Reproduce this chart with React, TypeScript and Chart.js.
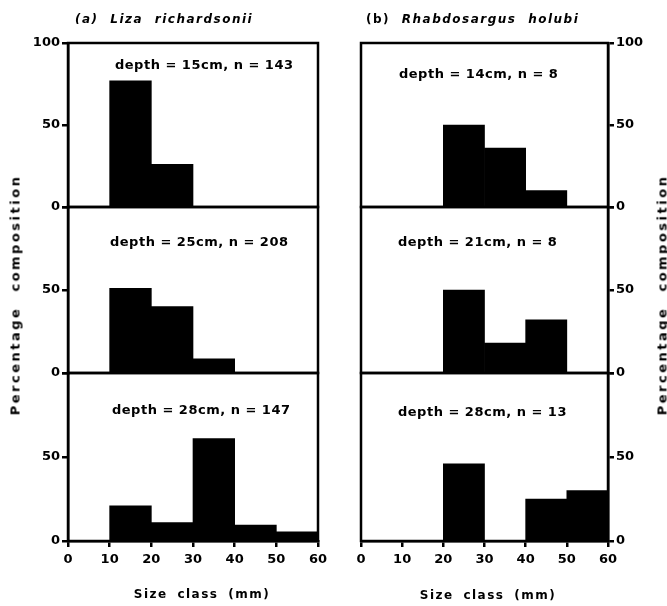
import React, { useEffect, useRef } from "react";
import { Chart, registerables } from "chart.js";

Chart.register(...registerables);

// ---- data ----
const sizeClassStart = [0, 10, 20, 30, 40, 50];
const sizeTicks = [0, 10, 20, 30, 40, 50, 60];
const percentTicks = [0, 50, 100];

const liza15 = [0, 77, 26, 0, 0, 0];
const liza25 = [0, 51, 40, 8.5, 0, 0];
const liza28 = [0, 21, 11, 61, 9.5, 5.5];
const rhab14 = [0, 0, 50, 36, 10, 0];
const rhab21 = [0, 0, 50, 18, 32, 0];
const rhab28 = [0, 0, 46, 0, 25, 30];

const lizaNotes = ["depth = 15cm, n = 143", "depth = 25cm, n = 208", "depth = 28cm, n = 147"];
const rhabNotes = ["depth = 14cm, n = 8", "depth = 21cm, n = 8", "depth = 28cm, n = 13"];

const titleA = "Liza richardsonii";
const titleB = "Rhabdosargus holubi";
const yTitle = "Percentage composition";
const xTitle = "Size class (mm)";

// ---- layout ----
const W = 667;
const H = 606;
const panelRows = [
  { top: 43, bottom: 207 },
  { top: 207, bottom: 373 },
  { top: 373, bottom: 541 },
];
const cols = [
  { left: 68, right: 318, side: "left", values: [liza15, liza25, liza28], notes: lizaNotes, noteOff: [[47, 23], [42, 36], [44, 38]] },
  { left: 361, right: 608, side: "right", values: [rhab14, rhab21, rhab28], notes: rhabNotes, noteOff: [[38, 32], [37, 36], [37, 40]] },
];

const FONT = "'DejaVu Sans', sans-serif";
const YAXIS_W = 40;
const XAXIS_H = 40;

function buildConfig(colIdx: number, rowIdx: number): any {
  const col = cols[colIdx];
  const row = panelRows[rowIdx];
  const isBottom = rowIdx === 2;
  const isTop = rowIdx === 0;
  const values = col.values[rowIdx];
  const note = col.notes[rowIdx];
  const [dx, dy] = col.noteOff[rowIdx];

  const padLeft = col.side === "left" ? col.left - YAXIS_W : col.left;
  const padRight = col.side === "left" ? W - col.right : W - col.right - YAXIS_W;
  const padTop = row.top;
  const padBottom = isBottom ? H - row.bottom - XAXIS_H : H - row.bottom;

  const framePlugin = {
    id: "frame" + colIdx + rowIdx,
    afterDraw(chart: any) {
      const { ctx, chartArea } = chart;
      ctx.save();
      ctx.strokeStyle = "#000";
      ctx.lineWidth = 2.5;
      ctx.strokeRect(chartArea.left, chartArea.top, chartArea.right - chartArea.left, chartArea.bottom - chartArea.top);
      ctx.font = "bold 13px " + FONT;
      try { (ctx as any).letterSpacing = "0.5px"; } catch (e) {}
      ctx.fillStyle = "#000";
      ctx.textAlign = "left";
      ctx.textBaseline = "middle";
      ctx.fillText(note, chartArea.left + dx, chartArea.top + dy);
      ctx.restore();
    },
  };

  return {
    type: "bar",
    data: {
      datasets: [
        {
          data: sizeClassStart.map((s, i) => ({ x: s + 5, y: values[i] })),
          backgroundColor: "#000",
          borderWidth: 0,
          barPercentage: 1,
          categoryPercentage: 1,
        },
      ],
    },
    options: {
      animation: false,
      responsive: false,
      events: [],
      layout: { padding: { left: padLeft, right: padRight, top: padTop, bottom: padBottom } },
      plugins: { legend: { display: false }, tooltip: { enabled: false }, title: { display: false } },
      scales: {
        x: {
          type: "linear",
          min: 0,
          max: 60,
          offset: false,
          display: isBottom,
          afterBuildTicks: (scale: any) => {
            scale.ticks = sizeTicks.map((v) => ({ value: v }));
          },
          afterFit: (scale: any) => {
            if (isBottom) scale.height = XAXIS_H;
          },
          border: { display: true, color: "#000", width: 2.5 },
          grid: { display: true, offset: false, drawOnChartArea: false, drawTicks: true, tickLength: 6, color: "#000", lineWidth: 2.5 },
          ticks: {
            color: "#000",
            font: { family: FONT, size: 13, weight: "bold" },
            padding: 5,
            maxRotation: 0,
            autoSkip: false,
          },
        },
        y: {
          type: "linear",
          position: col.side,
          min: 0,
          max: 100,
          afterBuildTicks: (scale: any) => {
            scale.ticks = percentTicks.map((v) => ({ value: v }));
          },
          afterFit: (scale: any) => {
            scale.width = YAXIS_W;
          },
          border: { display: true, color: "#000", width: 2.5 },
          grid: { display: true, drawOnChartArea: false, drawTicks: true, tickLength: 6, color: "#000", lineWidth: 2.5 },
          ticks: {
            color: "#000",
            font: { family: FONT, size: 13, weight: "bold" },
            padding: 2,
            callback: (v: any) => (v === 100 && !isTop ? "" : String(v)),
          },
        },
      },
    },
    plugins: [framePlugin],
  };
}

function Panel({ colIdx, rowIdx }: { colIdx: number; rowIdx: number }) {
  const ref = useRef<HTMLCanvasElement | null>(null);
  useEffect(() => {
    if (!ref.current) return;
    const chart = new Chart(ref.current, buildConfig(colIdx, rowIdx));
    return () => chart.destroy();
  }, [colIdx, rowIdx]);
  return (
    <canvas
      ref={ref}
      width={W}
      height={H}
      style={{ position: "absolute", left: 0, top: 0, width: W, height: H }}
    />
  );
}

const textBase: React.CSSProperties = {
  position: "absolute",
  fontFamily: FONT,
  fontWeight: "bold",
  color: "#000",
  whiteSpace: "nowrap",
  lineHeight: 1,
};

export default function App() {
  return (
    <div style={{ position: "absolute", left: 0, top: 0, width: W, height: H, background: "#fff", overflow: "hidden" }}>
      {[0, 1].map((c) => [0, 1, 2].map((r) => <Panel key={c + "-" + r} colIdx={c} rowIdx={r} />))}
      <div style={{ ...textBase, left: 75, top: 19, transform: "translateY(-50%)", fontSize: 12, letterSpacing: "1.5px", wordSpacing: "6px" }}>
        <span style={{ fontStyle: "italic" }}>(a)</span> <span style={{ fontStyle: "italic" }}>{titleA}</span>
      </div>
      <div style={{ ...textBase, left: 366, top: 19, transform: "translateY(-50%)", fontSize: 12, letterSpacing: "1.5px", wordSpacing: "6px" }}>
        <span>(b)</span> <span style={{ fontStyle: "italic" }}>{titleB}</span>
      </div>
      <div style={{ ...textBase, left: 15, top: 295, transform: "translate(-50%, -50%) rotate(-90deg)", fontSize: 13, letterSpacing: "2.5px", wordSpacing: "8px" }}>
        {yTitle}
      </div>
      <div style={{ ...textBase, left: 662, top: 295, transform: "translate(-50%, -50%) rotate(-90deg)", fontSize: 13, letterSpacing: "2.5px", wordSpacing: "8px" }}>
        {yTitle}
      </div>
      <div style={{ ...textBase, left: 202, top: 594, transform: "translate(-50%, -50%)", fontSize: 12, letterSpacing: "1.5px", wordSpacing: "4px" }}>
        {xTitle}
      </div>
      <div style={{ ...textBase, left: 488, top: 595, transform: "translate(-50%, -50%)", fontSize: 12, letterSpacing: "1.5px", wordSpacing: "4px" }}>
        {xTitle}
      </div>
    </div>
  );
}
